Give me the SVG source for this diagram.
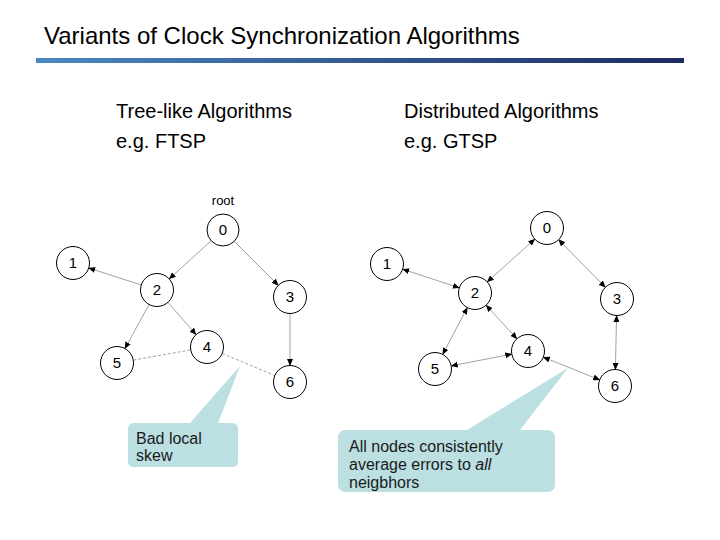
<svg xmlns="http://www.w3.org/2000/svg" width="720" height="540" viewBox="0 0 720 540">
<style>
text{font-family:"Liberation Sans",Arial,sans-serif;fill:#000}
.title{font-size:24px}
.hdr{font-size:20px}
.num{font-size:15px;text-anchor:middle}
.node{fill:#fff;stroke:#000;stroke-width:1}
.edge{stroke:#8a8a8a;stroke-width:0.8;fill:none}
.dash{stroke-dasharray:3,2}
.call{fill:#bcdfe2}
.ct{font-size:16px;fill:#1a1a1a}
</style>
<defs>
<linearGradient id="bar" x1="0" y1="0" x2="1" y2="0">
<stop offset="0" stop-color="#4b88c2"/>
<stop offset="1" stop-color="#1d2b63"/>
</linearGradient>
<marker id="ah" markerWidth="7" markerHeight="6" refX="6.5" refY="3" orient="auto-start-reverse" markerUnits="userSpaceOnUse">
<path d="M0,0 L7,3 L0,6 Z" fill="#000"/>
</marker>
</defs>
<text class="title" x="44" y="44">Variants of Clock Synchronization Algorithms</text>
<rect x="36" y="58" width="648" height="5" fill="url(#bar)"/>
<g id="headers">
<text class="hdr" x="116" y="118">Tree-like Algorithms</text>
<text class="hdr" x="116" y="148">e.g. FTSP</text>
<text class="hdr" x="404" y="118">Distributed Algorithms</text>
<text class="hdr" x="404" y="148">e.g. GTSP</text>
</g>
<g id="callouts">
<path class="call" d="M134,423 L190,423 L240,366 L218,423 L232,423 Q238,423 238,429 L238,461 Q238,467 232,467 L134,467 Q128,467 128,461 L128,429 Q128,423 134,423 Z"/>
<text class="ct" x="136" y="444">Bad local</text>
<text class="ct" x="136" y="461">skew</text>
<path class="call" d="M346,430 L467,430 L568,368 L520,430 L547,430 Q555,430 555,438 L555,484 Q555,492 547,492 L346,492 Q338,492 338,484 L338,438 Q338,430 346,430 Z"/>
<text class="ct" x="349" y="452">All nodes consistently</text>
<text class="ct" x="349" y="470">average errors to <tspan font-style="italic">all</tspan></text>
<text class="ct" x="349" y="488">neigbhors</text>
</g>
<g id="connectors">
<line class="edge" x1="210.8" y1="241.1" x2="169.2" y2="278.9" marker-end="url(#ah)"/>
<line class="edge" x1="234.7" y1="241.7" x2="278.3" y2="285.3" marker-end="url(#ah)"/>
<line class="edge" x1="141.3" y1="285" x2="88.7" y2="268" marker-end="url(#ah)"/>
<line class="edge" x1="149.1" y1="304.5" x2="124.9" y2="348.5" marker-end="url(#ah)"/>
<line class="edge" x1="167.9" y1="302.4" x2="196.1" y2="334.6" marker-end="url(#ah)"/>
<line class="edge" x1="290" y1="313.5" x2="290" y2="365.5" marker-end="url(#ah)"/>
<line class="edge dash" x1="133.3" y1="360.1" x2="190.7" y2="349.9"/>
<line class="edge dash" x1="222.2" y1="353.4" x2="274.8" y2="375.6"/>
<line class="edge" x1="534.8" y1="239.1" x2="487.2" y2="281.9" marker-start="url(#ah)" marker-end="url(#ah)"/>
<line class="edge" x1="558.6" y1="239.7" x2="605.4" y2="287.3" marker-start="url(#ah)" marker-end="url(#ah)"/>
<line class="edge" x1="402.7" y1="269.2" x2="459.3" y2="287.8" marker-start="url(#ah)" marker-end="url(#ah)"/>
<line class="edge" x1="467.3" y1="307.6" x2="442.7" y2="354.4" marker-start="url(#ah)" marker-end="url(#ah)"/>
<line class="edge" x1="486.1" y1="305.2" x2="516.9" y2="338.8" marker-start="url(#ah)" marker-end="url(#ah)"/>
<line class="edge" x1="616.6" y1="315.5" x2="615.4" y2="369.5" marker-start="url(#ah)" marker-end="url(#ah)"/>
<line class="edge" x1="451.2" y1="365.9" x2="511.8" y2="354.1" marker-start="url(#ah)" marker-end="url(#ah)"/>
<line class="edge" x1="543.3" y1="357.2" x2="599.7" y2="379.8" marker-start="url(#ah)" marker-end="url(#ah)"/>
</g>
<g id="tree">
<text x="223" y="205" font-size="13" text-anchor="middle">root</text>
<g id="t0"><circle class="node" cx="223" cy="230" r="16" stroke-width="3"/><text class="num" x="223" y="235">0</text></g>
<g id="t1"><circle class="node" cx="73" cy="263" r="16.5"/><text class="num" x="73" y="268">1</text></g>
<g id="t2"><circle class="node" cx="157" cy="290" r="16.5"/><text class="num" x="157" y="295">2</text></g>
<g id="t3"><circle class="node" cx="290" cy="297" r="16.5"/><text class="num" x="290" y="302">3</text></g>
<g id="t4"><circle class="node" cx="207" cy="347" r="16.5"/><text class="num" x="207" y="352">4</text></g>
<g id="t5"><circle class="node" cx="117" cy="363" r="16.5"/><text class="num" x="117" y="368">5</text></g>
<g id="t6"><circle class="node" cx="290" cy="382" r="16.5"/><text class="num" x="290" y="387">6</text></g>
</g>
<g id="dist">
<g id="d0"><circle class="node" cx="547" cy="228" r="16.5"/><text class="num" x="547" y="233">0</text></g>
<g id="d1"><circle class="node" cx="387" cy="264" r="16.5"/><text class="num" x="387" y="269">1</text></g>
<g id="d2"><circle class="node" cx="475" cy="293" r="16.5"/><text class="num" x="475" y="298">2</text></g>
<g id="d3"><circle class="node" cx="617" cy="299" r="16.5"/><text class="num" x="617" y="304">3</text></g>
<g id="d4"><circle class="node" cx="528" cy="351" r="16.5"/><text class="num" x="528" y="356">4</text></g>
<g id="d5"><circle class="node" cx="435" cy="369" r="16.5"/><text class="num" x="435" y="374">5</text></g>
<g id="d6"><circle class="node" cx="615" cy="386" r="16.5"/><text class="num" x="615" y="391">6</text></g>
</g>
</svg>
